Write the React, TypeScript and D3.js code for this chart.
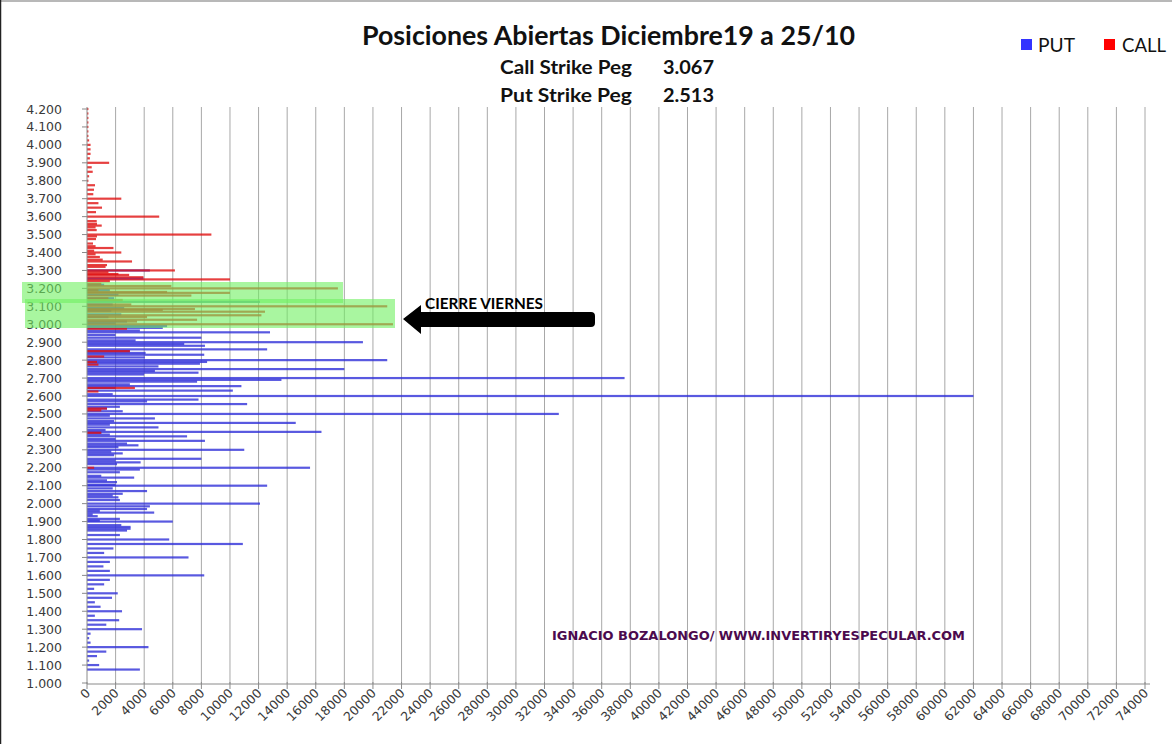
import React from 'react';
import * as d3 from 'd3';

const W = 1172;
const H = 744;

// Axis ticks
const yTickValues = d3.range(10, 43).map((d) => d / 10);
const xTickValues = d3.range(0, 74001, 2000);

// Texts
const titleText = 'Posiciones Abiertas Diciembre19 a 25/10';
const pegLabels = ['Call Strike Peg', 'Put Strike Peg'];
const pegValues = ['3.067', '2.513'];
const legendLabels = ['PUT', 'CALL'];

// CALL open interest (strike, contracts)
const callStrikes = [
  4.2, 4.175, 4.15, 4.125, 4.1, 4.075, 4.05, 4.025, 4.0, 3.975, 3.95, 3.925, 3.9, 3.875, 3.85, 3.825, 3.8,
  3.775, 3.75, 3.725, 3.7, 3.675, 3.65, 3.625, 3.6, 3.575, 3.56, 3.55, 3.54, 3.525, 3.5, 3.49, 3.475, 3.45,
  3.435, 3.425, 3.41, 3.4, 3.39, 3.375, 3.36, 3.35, 3.33, 3.32, 3.3, 3.29, 3.28, 3.275, 3.262, 3.25, 3.24,
  3.225, 3.213, 3.2, 3.19, 3.18, 3.175, 3.16, 3.145, 3.135, 3.11, 3.1, 3.085, 3.08, 3.07, 3.05, 3.04, 3.025,
  3.015, 3.0, 2.975, 2.85, 2.82, 2.79, 2.775, 2.645, 2.625, 2.53, 2.52, 2.395, 2.2,
];
const callValues = [
  100, 100, 100, 100, 100, 100, 100, 150, 250, 250, 250, 200, 1550, 330, 400, 150, 100,
  560, 490, 440, 2400, 800, 1050, 630, 5050, 680, 700, 1030, 600, 680, 8700, 700, 630, 420,
  600, 1850, 500, 2400, 600, 900, 1100, 3150, 1400, 1300, 6150, 1500, 2200, 2950, 3950, 10000, 1600,
  1000, 5900, 17550, 800, 5600, 10000, 7300, 1500, 2500, 3100, 21000, 7550, 5300, 12450, 12200, 4200, 7700,
  3500, 21400, 2800, 3000, 1200, 700, 800, 3350, 800, 1400, 1000, 1000, 500,
];

// PUT open interest (strike, contracts)
const putStrikes = [
  3.3, 3.255, 3.22, 3.19, 3.165, 3.145, 3.125, 3.11, 3.09, 3.075, 3.055, 3.04, 3.015, 3.005, 2.99, 2.98,
  2.965, 2.955, 2.94, 2.925, 2.91, 2.9, 2.89, 2.88, 2.86, 2.85, 2.84, 2.83, 2.815, 2.8, 2.79, 2.78, 2.765,
  2.75, 2.74, 2.73, 2.72, 2.7, 2.69, 2.68, 2.665, 2.655, 2.645, 2.63, 2.61, 2.6, 2.58, 2.57, 2.555, 2.54,
  2.53, 2.515, 2.5, 2.49, 2.475, 2.46, 2.45, 2.44, 2.425, 2.41, 2.4, 2.395, 2.385, 2.375, 2.36, 2.35, 2.335,
  2.325, 2.315, 2.3, 2.29, 2.28, 2.27, 2.25, 2.24, 2.23, 2.22, 2.2, 2.19, 2.175, 2.155, 2.145, 2.13, 2.12,
  2.105, 2.1, 2.085, 2.07, 2.055, 2.045, 2.035, 2.02, 2.0, 1.985, 1.97, 1.96, 1.95, 1.94, 1.93, 1.915, 1.905,
  1.9, 1.88, 1.87, 1.86, 1.85, 1.825, 1.8, 1.775, 1.75, 1.725, 1.7, 1.675, 1.65, 1.625, 1.6, 1.575, 1.55,
  1.525, 1.5, 1.475, 1.45, 1.425, 1.4, 1.375, 1.35, 1.325, 1.3, 1.275, 1.25, 1.225, 1.2, 1.175, 1.15, 1.125,
  1.1, 1.075,
];
const putValues = [
  4400, 3950, 1200, 1600, 2200, 1900, 12100, 1800, 2600, 1700, 2400, 1500, 2800, 2000, 5600, 5300,
  3700, 12800, 2000, 8000, 3400, 19300, 6800, 8250, 12600, 3000, 4100, 8200, 4050, 21000, 8400, 7900, 5000,
  18000, 4750, 7800, 4000, 37600, 13600, 7700, 3000, 10800, 2000, 10200, 1800, 62000, 7800, 4200, 11200, 2300,
  1400, 2500, 33000, 1600, 4750, 1900, 14600, 1600, 5000, 1300, 16400, 1000, 1600, 7000, 2000, 8250, 2800,
  3600, 2200, 11000, 1700, 2500, 1900, 8000, 2000, 3750, 2100, 15600, 3700, 2300, 1000, 3300, 1400, 2100,
  2000, 12600, 1800, 4200, 2500, 1800, 2200, 2300, 12100, 4400, 4200, 900, 4700, 400, 750, 2300, 900,
  6000, 2400, 3050, 3050, 2800, 2300, 5750, 10900, 1850, 1200, 7100, 1600, 1150, 1600, 8200, 1600, 1200,
  500, 2150, 1750, 550, 950, 2450, 550, 2250, 1350, 3850, 250, 150, 250, 4300, 1350, 700, 150,
  850, 3700,
];

export default function App() {
  const x = d3.scaleLinear().domain([0, 74000]).range([87, 1145]);
  const y = d3.scaleLinear().domain([1.0, 4.2]).range([683, 109]);
  const fmtY = d3.format('.3f');
  const plotTop = 107;
  const axisY = 684;
  const barH = 2.2;

  const puts = putStrikes.map((s, i) => ({ s, v: putValues[i] }));
  const calls = callStrikes.map((s, i) => ({ s, v: callValues[i] }));

  const arrowPath =
    'M403,319 L421,305 L421,312 L591,312 Q595,312 595,316 L595,323 Q595,327 591,327 L421,327 L421,334 Z';

  return (
    <svg
      width={W}
      height={H}
      viewBox={`0 0 ${W} ${H}`}
      style={{ position: 'absolute', left: 0, top: 0, background: '#ffffff' }}
    >
      <rect x={0} y={0} width={W} height={H} fill="#ffffff" />
      <line x1={0} y1={1} x2={W} y2={1} stroke="#b8b8b8" strokeWidth={2} />
      <line x1={0.5} y1={0} x2={0.5} y2={H} stroke="#222" strokeWidth={1.5} />

      {/* title */}
      <text
        x={362}
        y={45}
        fontFamily="Lato, 'Open Sans', sans-serif"
        fontWeight={700}
        fontSize={26}
        textLength={493}
        lengthAdjust="spacingAndGlyphs"
        fill="#111"
      >
        {titleText}
      </text>
      {pegLabels.map((t, i) => (
        <g key={t}>
          <text
            x={500}
            y={74 + i * 28}
            fontFamily="Lato, 'Open Sans', sans-serif"
            fontWeight={700}
            fontSize={19}
            textLength={132}
            lengthAdjust="spacingAndGlyphs"
            fill="#111"
          >
            {t}
          </text>
          <text
            x={663}
            y={74 + i * 28}
            fontFamily="Lato, 'Open Sans', sans-serif"
            fontWeight={700}
            fontSize={19}
            textLength={51}
            lengthAdjust="spacingAndGlyphs"
            fill="#111"
          >
            {pegValues[i]}
          </text>
        </g>
      ))}

      {/* legend */}
      {legendLabels.map((t, i) => (
        <g key={t}>
          <rect x={1021 + i * 83} y={39} width={11} height={11} fill={i === 0 ? '#3333ff' : '#ff0000'} />
          <text
            x={1038 + i * 84}
            y={52}
            fontFamily="Lato, 'Open Sans', sans-serif"
            fontSize={19}
            textLength={i === 0 ? 37 : 44}
            lengthAdjust="spacingAndGlyphs"
            fill="#111"
          >
            {t}
          </text>
        </g>
      ))}

      {/* gridlines */}
      {xTickValues.slice(1).map((v) => (
        <line key={`g${v}`} x1={x(v)} x2={x(v)} y1={plotTop} y2={axisY} stroke="#a8a8a8" strokeWidth={1} />
      ))}

      {/* bars */}
      {puts.map((d) => (
        <rect
          key={`p${d.s}`}
          x={x(0)}
          y={y(d.s) - barH / 2}
          width={x(d.v) - x(0)}
          height={barH}
          fill="#2f2fd8"
          fillOpacity={0.8}
        />
      ))}
      {calls.map((d) => (
        <rect
          key={`c${d.s}`}
          x={x(0)}
          y={y(d.s) - barH / 2}
          width={x(d.v) - x(0)}
          height={barH}
          fill="#e01010"
          fillOpacity={0.8}
        />
      ))}

      {/* axes */}
      <line x1={87} x2={87} y1={plotTop} y2={axisY} stroke="#8a8a8a" strokeWidth={1} />
      <line x1={87} x2={1150} y1={axisY} y2={axisY} stroke="#8a8a8a" strokeWidth={1} />
      {yTickValues.map((v) => (
        <g key={`y${v}`}>
          <line x1={82} x2={87} y1={y(v)} y2={y(v)} stroke="#8a8a8a" />
          <text
            x={62}
            y={y(v) + 4.5}
            textAnchor="end"
            fontFamily="'DejaVu Sans', Verdana, sans-serif"
            fontSize={12.5}
            fill="#3a3a3a"
          >
            {fmtY(v)}
          </text>
        </g>
      ))}
      {xTickValues.map((v) => (
        <g key={`x${v}`}>
          <line x1={x(v)} x2={x(v)} y1={axisY - 2} y2={axisY + 5} stroke="#8a8a8a" />
          <text
            transform={`translate(${x(v) + 4},${axisY + 10}) rotate(-45)`}
            textAnchor="end"
            fontFamily="'DejaVu Sans', Verdana, sans-serif"
            fontSize={12.5}
            fill="#3a3a3a"
          >
            {v}
          </text>
        </g>
      ))}

      {/* highlighted zone: Friday close */}
      <rect x={22} y={282} width={321} height={21} fill="#70f060" fillOpacity={0.6} />
      <rect x={25} y={299} width={370} height={29} fill="#70f060" fillOpacity={0.6} />

      {/* arrow + label */}
      <path d={arrowPath} fill="#000" />
      <text
        x={425}
        y={309}
        fontFamily="Lato, 'Open Sans', sans-serif"
        fontWeight={700}
        fontSize={15}
        textLength={118}
        lengthAdjust="spacingAndGlyphs"
        fill="#000"
      >
        CIERRE VIERNES
      </text>

      {/* watermark */}
      <text
        x={552}
        y={640}
        fontFamily="'DejaVu Sans', Verdana, sans-serif"
        fontWeight={700}
        fontSize={12.5}
        textLength={413}
        lengthAdjust="spacingAndGlyphs"
        fill="#4b0a4e"
      >
        IGNACIO BOZALONGO/ WWW.INVERTIRYESPECULAR.COM
      </text>
    </svg>
  );
}
